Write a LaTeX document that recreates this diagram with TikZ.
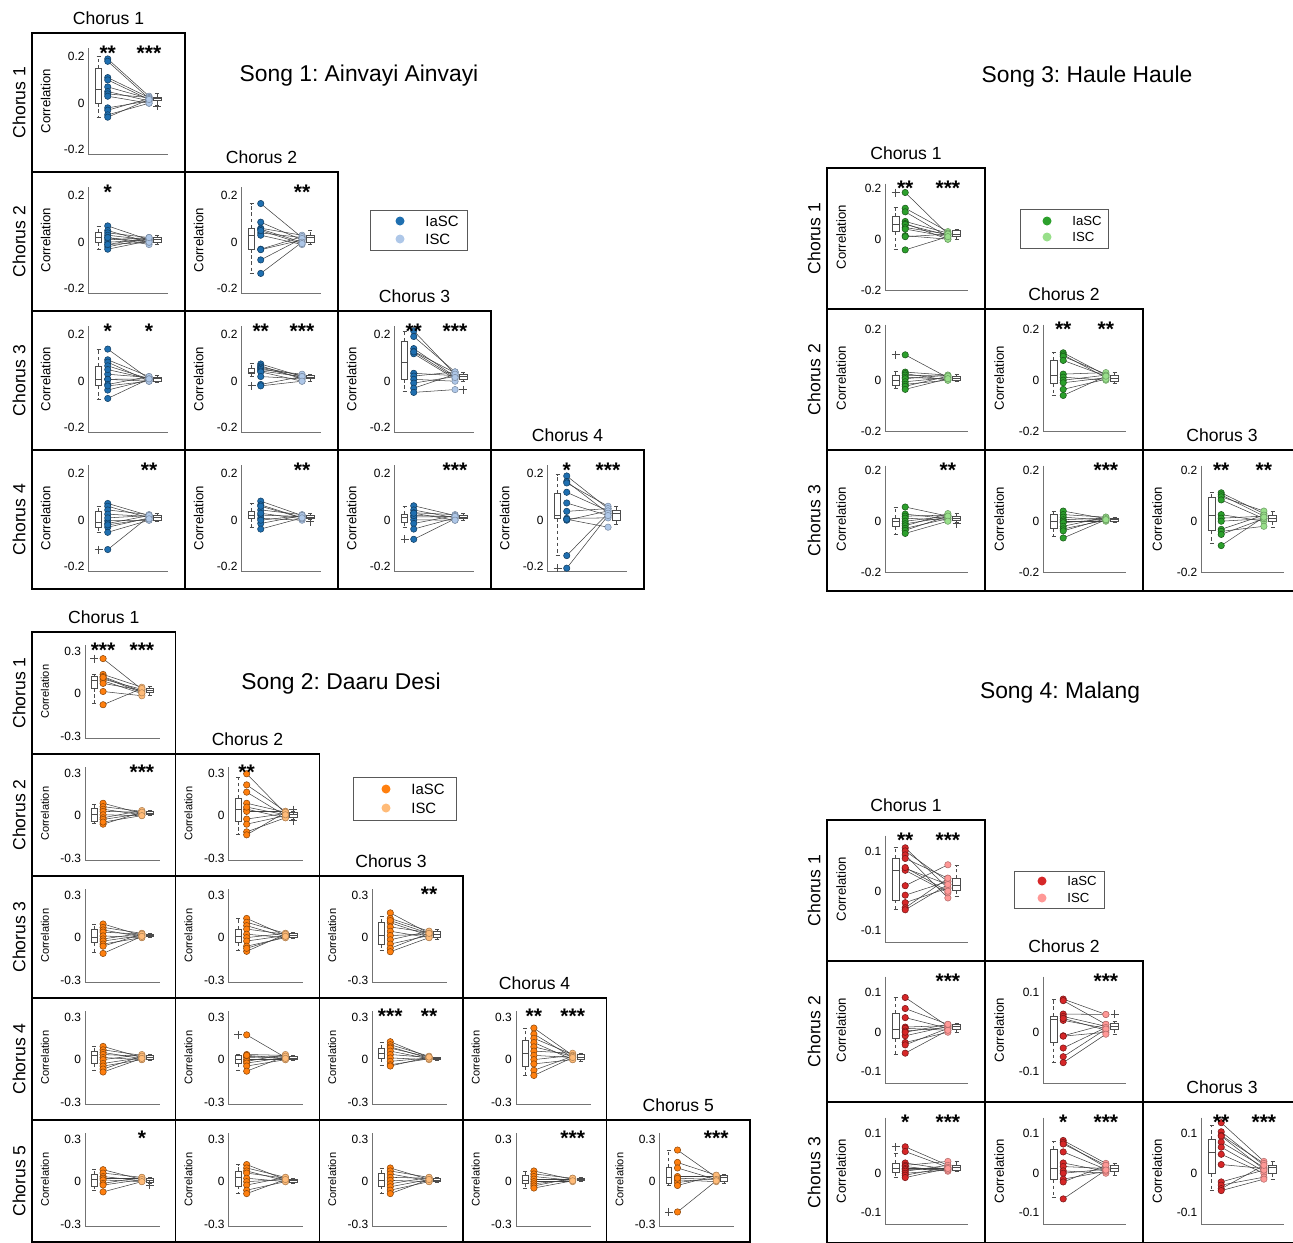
\documentclass[tikz,border=0pt]{standalone}
\usepackage{fontspec}
\setmainfont{Liberation Sans}
\frenchspacing

\definecolor{blueA}{HTML}{1F6FB0}
\definecolor{blueB}{HTML}{AEC7E8}
\definecolor{orangeA}{HTML}{FF7F0E}
\definecolor{orangeB}{HTML}{FFBB78}
\definecolor{greenA}{HTML}{2CA02C}
\definecolor{greenB}{HTML}{98DF8A}
\definecolor{redA}{HTML}{D62728}
\definecolor{redB}{HTML}{FF9896}

\tikzset{
  cellframe/.style={draw=black, line width=0.8pt},
  axisline/.style={draw=black!55, line width=0.4pt},
  pairline/.style={draw=black!75, line width=0.3pt},
  boxline/.style={draw=black!70, line width=0.45pt},
  whisker/.style={draw=black!70, line width=0.45pt, dash pattern=on 2pt off 1.5pt},
  dotA/.style={fill=dotAcol, draw=dotAcol!55!black, line width=0.3pt},
  dotB/.style={fill=dotBcol, draw=dotBcol!70!black, line width=0.3pt},
  ticklbl/.style={anchor=east, inner sep=1pt, font=\fontsize{6.8}{7}\selectfont},
  corrlbl/.style={rotate=90, inner sep=0pt, font=\fontsize{\corrsize}{9}\selectfont},
  starlbl/.style={anchor=base, inner sep=0pt, font=\fontsize{12}{12}\selectfont\bfseries},
  chorushead/.style={inner sep=0pt, font=\fontsize{10}{12}\selectfont},
  songtitle/.style={inner sep=0pt, font=\fontsize{13}{15}\selectfont},
  legbox/.style={draw=black!65, line width=0.5pt},
  legtext/.style={anchor=west, inner sep=0pt},
}

% song layout: origin x, origin y, cell w, cell h, tick, tick scale, colour, label size, id
\newcommand{\setsong}[9]{%
  \def\cellx{#1}\def\celly{#2}\def\cellw{#3}\def\cellh{#4}\def\tickv{#5}%
  \pgfmathsetmacro\tsc{#6*#4}\pgfmathsetmacro\zerov{0.505*#4}%
  \pgfmathsetmacro\axx{0.37*#3}\pgfmathsetmacro\axend{0.89*#3}%
  \pgfmathsetmacro\axtop{0.11*#4}\pgfmathsetmacro\axbot{0.87*#4}%
  \pgfmathsetmacro\ptA{0.495*#3}\pgfmathsetmacro\ptB{0.765*#3}%
  \pgfmathsetmacro\bxAl{0.415*#3}\pgfmathsetmacro\bxAr{0.455*#3}\pgfmathsetmacro\bxAmid{0.435*#3}%
  \pgfmathsetmacro\bxBl{0.795*#3}\pgfmathsetmacro\bxBr{0.845*#3}\pgfmathsetmacro\bxBmid{0.82*#3}%
  \pgfmathsetmacro\starv{0.11*#4+12}%
  \colorlet{dotAcol}{#7A}\colorlet{dotBcol}{#7B}%
  \def\corrsize{#8}\def\songid{#9}}

% box: left, right, middle, then lo/q1/med/q3/hi in tick units
\def\drawbox#1#2#3#4/#5/#6/#7/#8\relax{%
  \draw[whisker] (#3,{\zerov-(#7)*\tsc}) -- (#3,{\zerov-(#8)*\tsc});
  \draw[whisker] (#3,{\zerov-(#5)*\tsc}) -- (#3,{\zerov-(#4)*\tsc});
  \draw[boxline] ({#3-2},{\zerov-(#8)*\tsc}) -- ({#3+2},{\zerov-(#8)*\tsc});
  \draw[boxline] ({#3-2},{\zerov-(#4)*\tsc}) -- ({#3+2},{\zerov-(#4)*\tsc});
  \draw[boxline] (#1,{\zerov-(#5)*\tsc}) rectangle (#2,{\zerov-(#7)*\tsc});
  \draw[boxline] (#1,{\zerov-(#6)*\tsc}) -- (#2,{\zerov-(#6)*\tsc});}

% one panel: col, row, stars IaSC, stars ISC, pairs IaSC/ISC, box IaSC, box ISC, outliers
\newcommand{\corrpanel}[8]{%
  \begin{scope}[shift={({\cellx+(#1-1)*\cellw},{\celly+(#2-1)*\cellh})}]
    \draw[cellframe] (0,0) rectangle (\cellw,\cellh);
    % axes
    \draw[axisline] (\axx,\axtop) -- (\axx,\axbot) -- (\axend,\axbot);
    \node[ticklbl] (\songid-#2-#1-t1) at ({\axx-2},{\zerov-\tsc}) {\tickv};
    \node[ticklbl] (\songid-#2-#1-t0) at ({\axx-2},\zerov) {0};
    \node[ticklbl] (\songid-#2-#1-t2) at ({\axx-2},{\zerov+\tsc}) {-\tickv};
    \node[corrlbl] (\songid-#2-#1-y) at ({0.09*\cellw},{0.49*\cellh}) {Correlation};
    % boxes
    \drawbox{\bxAl}{\bxAr}{\bxAmid}#6\relax
    \drawbox{\bxBl}{\bxBr}{\bxBmid}#7\relax
    \foreach \os/\ov in {#8}
      \draw[boxline] ({\csname bx\os mid\endcsname-4},{\zerov-(\ov)*\tsc}) -- ++(8,0)
                     ({\csname bx\os mid\endcsname},{\zerov-(\ov)*\tsc-4}) -- ++(0,8);
    % subjects
    \foreach \ia/\ib in {#5}
      \draw[pairline] (\ptA,{\zerov-(\ia)*\tsc}) -- (\ptB,{\zerov-(\ib)*\tsc});
    \foreach \ia/\ib in {#5}{
      \filldraw[dotB] (\ptB,{\zerov-(\ib)*\tsc}) circle (3.2);
      \filldraw[dotA] (\ptA,{\zerov-(\ia)*\tsc}) circle (3.2);
    }
    \node[starlbl] (\songid-#2-#1-sa) at (\ptA,\starv) {#3};
    \node[starlbl] (\songid-#2-#1-sb) at (\ptB,\starv) {#4};
  \end{scope}}

% row and column headings
\newcommand{\chorusgrid}[1]{%
  \foreach \k in {1,...,#1}{
    \node[chorushead, rotate=90] (\songid-row\k) at ({\cellx-13},{\celly+(\k-0.5)*\cellh}) {Chorus \k};
    \node[chorushead] (\songid-col\k) at ({\cellx+(\k-0.5)*\cellw},{\celly+(\k-1)*\cellh-15}) {Chorus \k};
  }}

% legend: box corners, dot x, dot y1, dot y2, text size
\newcommand{\songlegend}[8]{%
  \draw[legbox] (#1,#2) rectangle (#3,#4);
  \filldraw[dotA, draw=none] (#5,#6) circle (4.5);
  \filldraw[dotB, draw=none] (#5,#7) circle (4.5);
  \node[legtext, font=\fontsize{#8}{9}\selectfont] (\songid-lg-a) at (#5+25,#6) {IaSC};
  \node[legtext, font=\fontsize{#8}{9}\selectfont] (\songid-lg-b) at (#5+25,#7) {ISC};}

\begin{document}
\begin{tikzpicture}[x=0.02cm, y=-0.02cm]
  \useasboundingbox (0,0) rectangle (1293,1242);

  % Song 1
  \setsong{32}{33}{153}{139}{0.2}{0.335}{blue}{7.5}{s1}
  \node[songtitle] (s1-title) at (359,76) {Song 1: Ainvayi Ainvayi};
  \chorusgrid{4}
  \corrpanel{1}{1}{**}{***}{0.95/0.15,0.9/0.1,0.55/0.12,0.5/0.08,0.35/0.1,0.25/0.05,0.2/0.12,0.15/0.0,-0.1/0.05,-0.15/0.1,-0.25/0.0,-0.3/0.08}{-0.3/0/0.3/0.75/1.0}{-0.05/0.06/0.1/0.13/0.2}{B/-0.07}
  \corrpanel{1}{2}{*}{}{0.35/0.05,0.25/0.0,0.2/0.1,0.15/0.05,0.1/-0.05,0.05/0.1,0.0/0.05,-0.05/0.0,-0.1/0.08,-0.15/0.03,0.1/0.0,-0.05/0.1}{-0.15/0.0/0.1/0.2/0.35}{-0.05/0.0/0.05/0.1/0.15}{}
  \corrpanel{2}{2}{}{**}{0.83/0.1,0.43/0.05,0.3/0.15,0.28/0.0,0.2/0.1,0.15/-0.05,-0.15/0.12,-0.16/0.05,-0.38/0.08,-0.67/0.0,0.25/-0.03}{-0.67/-0.15/0.15/0.3/0.83}{-0.05/0.0/0.1/0.15/0.25}{}
  \corrpanel{1}{3}{*}{*}{0.69/0.05,0.46/0.1,0.41/0.0,0.33/0.05,0.15/0.08,0.04/0.0,0.04/0.05,-0.07/0.1,-0.19/0.03,-0.37/0.05,-0.1/0.0,0.25/0.05}{-0.39/-0.1/0.04/0.32/0.69}{-0.02/0.0/0.05/0.09/0.12}{}
  \corrpanel{2}{3}{**}{***}{0.37/0.1,0.33/0.05,0.3/0.12,0.28/0.08,0.25/0.15,0.22/0.1,0.2/0.0,0.1/0.05,-0.07/0.1,-0.1/0.0}{0.1/0.16/0.2/0.27/0.38}{0.0/0.06/0.09/0.13/0.15}{A/-0.1}
  \corrpanel{3}{3}{**}{***}{1.08/0.15,0.96/0.2,0.7/0.1,0.64/0.18,0.59/0.05,0.17/0.12,0.11/0.2,0.04/0.0,-0.04/0.1,-0.15/0.15,-0.24/-0.18,0.63/0.08}{-0.22/0.04/0.4/0.85/1.08}{0.0/0.04/0.1/0.15/0.2}{B/-0.18}
  \corrpanel{1}{4}{}{**}{0.36/0.1,0.3/0.05,0.22/0.12,0.13/0.08,-0.01/0.0,-0.07/0.1,-0.15/0.05,-0.26/0.0,-0.63/0.08,0.05/0.1,-0.1/0.03}{-0.26/-0.15/-0.04/0.19/0.3}{-0.02/0.0/0.05/0.11/0.15}{A/-0.63}
  \corrpanel{2}{4}{}{**}{0.41/0.1,0.33/0.05,0.22/0.12,0.11/0.08,0.04/0.0,-0.07/0.1,-0.19/0.05,0.15/0.03,0.0/0.1,0.3/0.05}{-0.15/0.04/0.11/0.19/0.37}{0.02/0.03/0.06/0.1/0.15}{B/-0.03}
  \corrpanel{3}{4}{}{***}{0.31/0.1,0.22/0.05,0.16/0.12,0.07/0.08,0.01/0.0,-0.07/0.1,-0.19/0.05,-0.41/0.03,0.1/0.08,0.15/0.0}{-0.15/-0.04/0.06/0.13/0.3}{0.0/0.03/0.07/0.1/0.15}{A/-0.41}
  \corrpanel{4}{4}{*}{***}{0.95/0.25,0.83/0.15,0.8/0.3,0.6/0.2,0.37/0.1,0.19/0.25,0.04/0.05,0.0/0.2,0.02/-0.15,-0.76/0.15,-1.03/0.1}{-0.76/0.04/0.11/0.58/0.98}{-0.1/-0.01/0.14/0.22/0.3}{A/-1.03}
  \songlegend{370}{210}{467}{250}{400}{221}{239}{8.5}

  % Song 2
  \setsong{32}{632}{143.6}{122}{0.3}{0.35}{orange}{6.3}{s2}
  \node[songtitle] (s2-title) at (341,684) {Song 2: Daaru Desi};
  \chorusgrid{5}
  \corrpanel{1}{1}{***}{***}{0.82/0.1,0.45/0.15,0.4/0.05,0.34/0.1,0.3/0.0,0.24/0.08,0.05/-0.05,-0.26/0.12,0.38/0.02}{-0.22/0.13/0.3/0.4/0.45}{-0.05/0.02/0.07/0.13/0.17}{A/0.82}
  \corrpanel{1}{2}{}{***}{0.29/0.05,0.21/0.1,0.15/0.02,0.1/0.08,0.02/0.0,-0.05/0.12,-0.09/0.05,-0.2/0.08,-0.15/0.0}{-0.18/-0.13/0.02/0.17/0.27}{0.0/0.03/0.06/0.1/0.13}{}
  \corrpanel{2}{2}{**}{}{0.98/0.05,0.72/0.1,0.55/0.0,0.29/0.08,0.15/-0.05,0.1/0.1,-0.08/0.05,-0.2/0.0,-0.38/-0.05,-0.45/0.08,0.2/0.02}{-0.45/-0.13/0.15/0.4/0.9}{-0.08/-0.03/0.02/0.08/0.1}{B/0.14,B/-0.12}
  \corrpanel{1}{3}{}{}{0.32/0.05,0.24/0.1,0.18/0.02,0.13/0.08,0.04/0.0,-0.03/0.1,-0.08/0.05,-0.15/0.0,-0.2/0.08,-0.37/0.03}{-0.35/-0.12/0.0/0.2/0.3}{0.0/0.02/0.05/0.08/0.1}{}
  \corrpanel{2}{3}{}{}{0.45/0.05,0.36/0.1,0.28/0.02,0.2/0.08,0.08/0.0,0.0/0.1,-0.08/0.05,-0.2/0.0,-0.32/0.08,-0.25/0.03}{-0.3/-0.12/0.04/0.2/0.45}{-0.02/0.0/0.05/0.1/0.13}{}
  \corrpanel{3}{3}{}{**}{0.58/0.1,0.45/0.15,0.35/0.05,0.25/0.12,0.15/0.0,0.05/0.08,-0.05/0.15,-0.15/0.05,-0.25/0.1,-0.33/0.0,0.4/0.1}{-0.3/-0.15/0.05/0.35/0.5}{-0.05/0.0/0.08/0.15/0.2}{}
  \corrpanel{1}{4}{}{}{0.31/0.05,0.23/0.1,0.17/0.02,0.12/0.08,0.05/0.0,0.0/0.12,-0.09/0.05,-0.15/0.0,-0.22/0.08,-0.29/0.03}{-0.25/-0.09/0.1/0.19/0.3}{-0.02/0.0/0.05/0.1/0.13}{}
  \corrpanel{2}{4}{}{}{0.58/0.05,0.12/0.1,0.08/0.02,0.05/0.08,0.0/0.0,-0.04/0.12,-0.08/0.05,-0.15/0.0,-0.27/0.08,0.1/0.03}{-0.25/-0.09/0.0/0.1/0.12}{-0.02/0.0/0.04/0.08/0.1}{A/0.58}
  \corrpanel{3}{4}{***}{**}{0.42/0.05,0.35/0.08,0.3/0.03,0.27/0.06,0.2/0.02,0.12/0.05,0.04/0.0,-0.04/0.04,-0.12/0.02,-0.15/0.06}{-0.13/0.02/0.15/0.27/0.4}{-0.01/0.0/0.03/0.05/0.06}{}
  \corrpanel{4}{4}{**}{***}{0.74/0.1,0.6/0.05,0.5/0.12,0.4/0.0,0.3/0.08,0.2/0.15,0.1/0.05,0.0/0.1,-0.1/0.0,-0.25/0.08,-0.37/0.05}{-0.37/-0.15/0.15/0.45/0.74}{-0.03/0.0/0.06/0.12/0.15}{}
  \corrpanel{1}{5}{}{*}{0.28/0.05,0.2/0.1,0.12/0.02,0.08/0.08,0.04/0.0,-0.04/0.1,-0.08/0.05,-0.24/0.0}{-0.2/-0.1/0.06/0.16/0.28}{-0.05/-0.02/0.03/0.08/0.1}{B/-0.08}
  \corrpanel{2}{5}{}{}{0.4/0.05,0.32/0.1,0.25/0.02,0.2/0.08,0.08/0.0,0.0/0.05,-0.08/0.1,-0.2/0.0,-0.28/0.05}{-0.28/-0.1/0.1/0.25/0.4}{-0.05/-0.01/0.03/0.06/0.08}{}
  \corrpanel{3}{5}{}{}{0.32/0.05,0.25/0.1,0.18/0.02,0.1/0.08,0.03/0.0,-0.05/0.1,-0.12/0.05,-0.2/0.0,-0.28/0.05}{-0.28/-0.1/0.02/0.2/0.3}{-0.02/0.0/0.04/0.08/0.1}{}
  \corrpanel{4}{5}{}{***}{0.25/0.05,0.18/0.08,0.12/0.03,0.06/0.06,0.0/0.0,-0.05/0.05,-0.1/0.08,-0.15/0.02}{-0.15/-0.05/0.03/0.15/0.25}{0.0/0.02/0.05/0.08/0.1}{}
  \corrpanel{5}{5}{}{***}{0.74/0.1,0.45/0.15,0.32/0.05,0.12/0.12,0.04/0.0,-0.02/0.08,-0.09/0.15,0.08/0.05,-0.71/0.02}{-0.09/-0.05/0.1/0.33/0.74}{-0.03/0.0/0.1/0.15/0.18}{A/-0.71}
  \songlegend{353}{777}{456}{820}{386}{789}{808}{8.5}

  % Song 3
  \setsong{827}{168}{158}{141}{0.2}{0.36}{green}{7.5}{s3}
  \node[songtitle] (s3-title) at (1087,77) {Song 3: Haule Haule};
  \chorusgrid{3}
  \corrpanel{1}{1}{**}{***}{0.92/0.1,0.61/0.15,0.54/0.05,0.35/0.12,0.31/0.0,0.29/0.08,0.23/0.1,0.2/0.05,0.07/0.0,0.05/0.1,-0.21/0.05}{-0.2/0.15/0.29/0.44/0.62}{0.0/0.05/0.1/0.18/0.2}{A/0.92}
  \corrpanel{1}{2}{}{}{0.5/0.05,0.16/0.1,0.13/0.0,0.1/0.08,0.06/0.02,0.03/0.1,-0.03/0.05,-0.08/0.0,-0.12/0.08,-0.18/0.03}{-0.17/-0.1/-0.01/0.1/0.18}{-0.03/0.0/0.03/0.08/0.12}{A/0.5}
  \corrpanel{2}{2}{**}{**}{0.54/0.1,0.5/0.05,0.47/0.12,0.39/0.08,0.12/0.15,0.06/0.0,0.0/0.1,-0.05/0.05,-0.18/0.02,-0.3/0.08}{-0.3/-0.07/0.1/0.39/0.54}{-0.06/-0.02/0.04/0.1/0.15}{}
  \corrpanel{1}{3}{}{**}{0.28/0.1,0.14/0.05,0.1/0.12,0.06/0.02,0.0/0.1,-0.05/0.08,-0.09/0.15,-0.14/0.05,-0.18/0.1,-0.24/0.0}{-0.25/-0.11/0.0/0.06/0.28}{-0.02/0.02/0.06/0.1/0.15}{B/-0.05}
  \corrpanel{2}{3}{}{***}{0.2/0.05,0.13/0.08,0.08/0.02,0.03/0.06,0.0/0.0,-0.03/0.04,-0.1/0.08,-0.15/0.02,-0.19/0.05,-0.33/0.03}{-0.3/-0.14/0.0/0.13/0.2}{-0.02/0.0/0.03/0.06/0.08}{}
  \corrpanel{3}{3}{**}{**}{0.56/0.15,0.52/0.1,0.48/0.2,0.42/0.05,0.13/0.0,0.06/0.1,0.0/0.05,-0.16/0.12,-0.2/-0.1,-0.26/0.05,-0.48/0.08}{-0.43/-0.19/0.11/0.47/0.56}{-0.12/0.0/0.05/0.12/0.2}{}
  \songlegend{1020}{209}{1108}{248}{1047}{221}{237}{7.5}

  % Song 4
  \setsong{827}{820}{158}{141}{0.1}{0.28}{red}{7.5}{s4}
  \node[songtitle] (s4-title) at (1060,693) {Song 4: Malang};
  \chorusgrid{3}
  \corrpanel{1}{1}{**}{***}{1.1/0.08,1.02/0.25,0.92/-0.17,0.83/0.33,0.58/0.17,0.53/-0.04,0.14/0.67,-0.1/0.25,-0.29/0.08,-0.42/0.33,-0.47/0.17,0.6/0.0}{-0.45/-0.22/0.54/0.83/1.1}{-0.13/0.03/0.15/0.32/0.65}{}
  \corrpanel{1}{2}{}{***}{0.88/0.15,0.6/0.2,0.37/0.1,0.13/0.17,0.1/0.05,0.03/0.12,-0.09/0.15,-0.26/0.0,-0.32/0.1,-0.53/0.05,0.0/0.2}{-0.55/-0.16/0.07/0.48/0.87}{0.0/0.08/0.15/0.2/0.22}{}
  \corrpanel{2}{2}{}{***}{0.84/0.45,0.8/0.2,0.46/0.45,0.4/0.15,0.3/0.1,0.35/0.05,-0.09/0.2,-0.1/0.0,-0.4/0.12,-0.62/0.08,-0.77/-0.05}{-0.77/-0.26/0.32/0.41/0.84}{-0.05/0.08/0.15/0.22/0.28}{B/0.45}
  \corrpanel{1}{3}{*}{***}{0.67/0.2,0.55/0.15,0.26/0.1,0.2/0.3,0.17/0.05,0.12/0.12,0.09/0.1,0.05/0.2,0.0/0.08,-0.05/0.15,-0.11/0.12}{-0.1/0.03/0.13/0.25/0.5}{0.05/0.08/0.15/0.2/0.3}{A/0.67}
  \corrpanel{2}{3}{*}{***}{0.83/0.25,0.78/0.15,0.74/0.2,0.54/0.1,0.26/0.05,0.17/0.12,0.06/0.0,0.0/0.1,-0.15/0.05,-0.22/0.2,-0.65/0.08}{-0.6/-0.16/0.13/0.6/0.8}{-0.05/0.05/0.12/0.2/0.25}{}
  \corrpanel{3}{3}{**}{***}{1.28/0.3,1.05/0.2,0.96/0.25,0.94/0.1,0.79/0.15,0.66/0.05,0.48/0.0,0.22/0.12,-0.22/0.08,-0.3/-0.1,-0.39/0.2,-0.44/-0.15}{-0.44/0.0/0.54/0.85/1.22}{-0.15/0.0/0.15/0.2/0.3}{}
  \songlegend{1014}{871}{1104}{908}{1042}{881}{898}{7.5}
\end{tikzpicture}
\end{document}
